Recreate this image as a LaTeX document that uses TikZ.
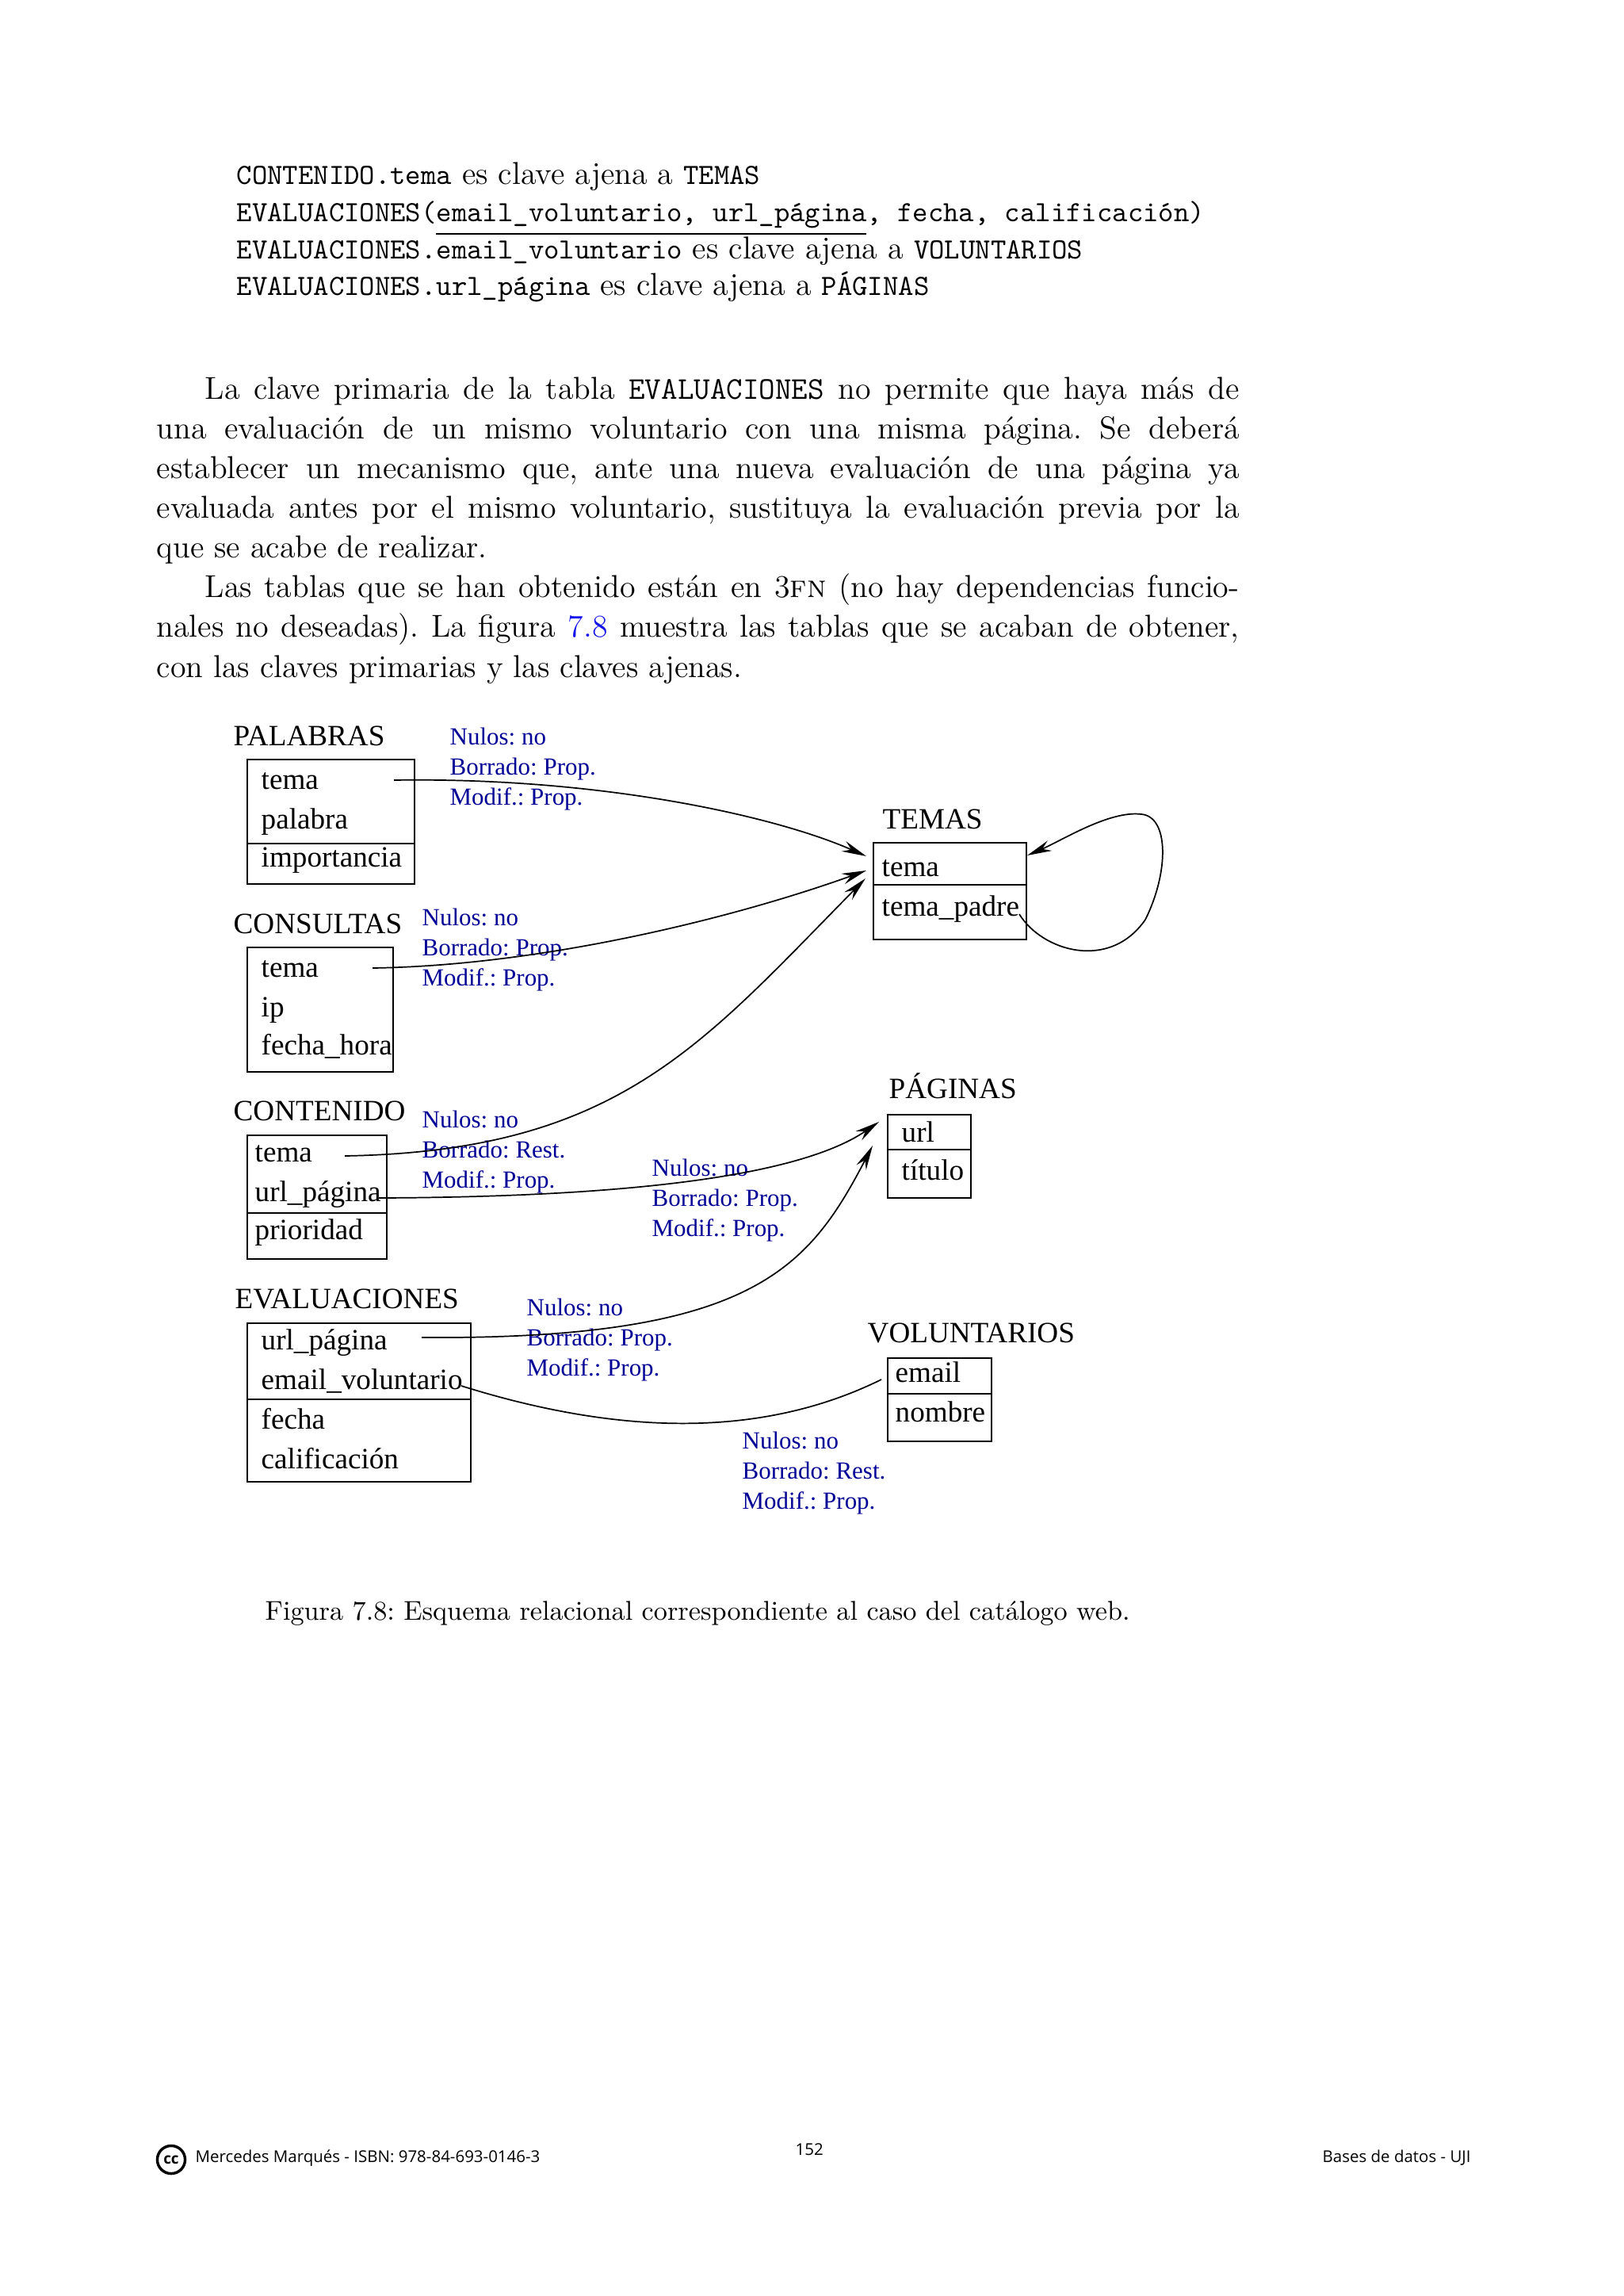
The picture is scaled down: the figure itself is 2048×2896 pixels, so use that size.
\documentclass[tikz,border=0pt]{standalone}
\usepackage{fontspec}
\usepackage{xcolor}
\usetikzlibrary{arrows.meta}
\newfontfamily\timesf{Liberation Serif}
\newfontfamily\footf{Open Sans}
\definecolor{fkblue}{RGB}{0,0,150}
\definecolor{linkblue}{RGB}{20,20,235}
\newcommand\ctt[1]{{\fontsize{10.73}{13}\selectfont\ttfamily #1}}
\newcommand\fkl[4]{%
  \node[fk] (#1a) at (#2,#3) {Nulos: no};
  \node[fk] (#1b) at (#2,{#3+38}) {Borrado: #4};
  \node[fk] (#1c) at (#2,{#3+76}) {Modif.: Prop.};}
\frenchspacing
\begin{document}
\begin{tikzpicture}[x=0.2906pt,y=-0.2906pt,
  body/.style={anchor=base west,inner sep=0pt,font=\fontsize{11.6}{14.5}\selectfont},
  tbox/.style={draw,line width=0.5pt},
  fld/.style={anchor=base west,inner sep=0pt,font=\timesf\fontsize{10.8}{13}\selectfont},
  fk/.style={anchor=base west,inner sep=0pt,text=fkblue,font=\timesf\fontsize{9}{11}\selectfont},
  conn/.style={line width=0.5pt},
  arr/.style={conn,-{Stealth[length=9pt,width=4pt,inset=3pt]}},
  foot/.style={anchor=base west,inner sep=0pt,font=\footf\fontsize{5.95}{7}\selectfont}]
\useasboundingbox (0,0) rectangle (2048,2896);
\fill[white] (0,0) rectangle (2048,2896);

% ---- code lines
\node[body] (l1) at (298,233) {\ctt{CONTENIDO.tema} es clave ajena a \ctt{TEMAS}};
\node[body] (l2) at (298,280) {\ctt{EVALUACIONES(email\_voluntario, url\_página, fecha, calificación)}};
\draw[line width=0.75pt] (550,295) -- (1093,295);
\node[body] (l3) at (298,327) {\ctt{EVALUACIONES.email\_voluntario} es clave ajena a \ctt{VOLUNTARIOS}};
\node[body] (l4) at (298,373) {\ctt{EVALUACIONES.url\_página} es clave ajena a \ctt{PÁGINAS}};

% ---- body text
\node[body] (b1) at (258,504) {\makebox[379.2pt][s]{La clave primaria de la tabla \texttt{EVALUACIONES} no permite que haya más de}};
\node[body] (b2) at (197,554) {\makebox[397pt][s]{una evaluación de un mismo voluntario con una misma página. Se deberá}};
\node[body] (b3) at (197,604) {\makebox[397pt][s]{establecer un mecanismo que, ante una nueva evaluación de una página ya}};
\node[body] (b4) at (197,654) {\makebox[397pt][s]{evaluada antes por el mismo voluntario, sustituya la evaluación previa por la}};
\node[body] (b5) at (197,704) {que se acabe de realizar.};
\node[body] (b6) at (258,754) {\makebox[379.2pt][s]{Las tablas que se han obtenido están en 3\textsc{fn} (no hay dependencias funcio-}};
\node[body] (b7) at (197,804) {\makebox[397pt][s]{nales no deseadas). La figura {\color{linkblue}7.8} muestra las tablas que se acaban de obtener,}};
\node[body] (b8) at (197,854) {con las claves primarias y las claves ajenas.};

% ---- tables
% PALABRAS
\node[fld] (tpal) at (294,940) {PALABRAS};
\draw[tbox] (312,958) rectangle (523,1115);
\draw[tbox] (312,1064) -- (523,1064);
\node[fld] (pal1) at (329,995) {tema};
\node[fld] (pal2) at (329,1045) {palabra};
\node[fld] (pal3) at (329,1093) {importancia};
% CONSULTAS
\node[fld] (tcon) at (294,1177) {CONSULTAS};
\draw[tbox] (312,1195) rectangle (496,1352);
\node[fld] (con1) at (329,1232) {tema};
\node[fld] (con2) at (329,1282) {ip};
\node[fld] (con3) at (329,1330) {fecha\_hora};
% CONTENIDO
\node[fld] (tcnt) at (294,1413) {CONTENIDO};
\draw[tbox] (312,1432) rectangle (488,1588);
\draw[tbox] (312,1530) -- (488,1530);
\node[fld] (cnt1) at (321,1465) {tema};
\node[fld] (cnt2) at (321,1515) {url\_página};
\node[fld] (cnt3) at (321,1563) {prioridad};
% EVALUACIONES
\node[fld] (teva) at (296,1650) {EVALUACIONES};
\draw[tbox] (312,1669) rectangle (594,1869);
\draw[tbox] (312,1765) -- (594,1765);
\node[fld] (eva1) at (329,1702) {url\_página};
\node[fld] (eva2) at (329,1752) {email\_voluntario};
\node[fld] (eva3) at (329,1802) {fecha};
\node[fld] (eva4) at (329,1852) {calificación};
% TEMAS
\node[fld] (ttem) at (1113,1045) {TEMAS};
\draw[tbox] (1102,1063) rectangle (1295,1185);
\draw[tbox] (1102,1116) -- (1295,1116);
\node[fld] (tem1) at (1112,1105) {tema};
\node[fld] (tem2) at (1112,1155) {tema\_padre};
% PAGINAS
\node[fld] (tpag) at (1121,1385) {PÁGINAS};
\draw[tbox] (1120,1406) rectangle (1225,1511);
\draw[tbox] (1120,1450) -- (1225,1450);
\node[fld] (pag1) at (1137,1440) {url};
\node[fld] (pag2) at (1137,1488) {título};
% VOLUNTARIOS
\node[fld] (tvol) at (1094,1693) {VOLUNTARIOS};
\draw[tbox] (1120,1713) rectangle (1251,1818);
\draw[tbox] (1120,1758) -- (1251,1758);
\node[fld] (vol1) at (1129,1743) {email};
\node[fld] (vol2) at (1129,1793) {nombre};

% ---- foreign key labels
\fkl{fa}{567}{939}{Prop.}
\fkl{fb}{532}{1167}{Prop.}
\fkl{fc}{532}{1422}{Rest.}
\fkl{fd}{822}{1483}{Prop.}
\fkl{fe}{664}{1659}{Prop.}
\fkl{ff}{936}{1827}{Rest.}

% ---- connector end points
\coordinate (s1) at (497,984);   \coordinate (e1) at (1093,1080);
\coordinate (s2) at (470,1221);  \coordinate (e2) at (1093,1098);
\coordinate (s3) at (435,1458);  \coordinate (e3) at (1092,1108);
\coordinate (s4) at (478,1511);  \coordinate (e4) at (1109,1415);
\coordinate (s5) at (532,1687);  \coordinate (e5) at (1101,1445);
\coordinate (s6) at (582,1748);  \coordinate (e6) at (1112,1740);
\coordinate (s7) at (1286,1153); \coordinate (e7) at (1296,1079);

\draw[arr] (s1) .. controls (760,980) and (980,1030) .. (e1);
\draw[arr] (s2) .. controls (680,1218) and (920,1160) .. (e2);
\draw[arr] (s3) .. controls (780,1452) and (885,1318) .. (e3);
\draw[arr] (s4) .. controls (750,1510) and (1000,1490) .. (e4);
\draw[arr] (s5) .. controls (950,1690) and (1020,1600) .. (e5);
\draw[conn] (s6) .. controls (780,1810) and (960,1815) .. (e6);
\draw[arr] (s7) .. controls (1315,1200) and (1400,1225) .. (1445,1160)
  .. controls (1475,1100) and (1475,1030) .. (1440,1027)
  .. controls (1400,1022) and (1340,1060) .. (e7);

% ---- caption
\node[anchor=base west,inner sep=0pt,font=\fontsize{9.95}{12.5}\selectfont] (cap) at (334,2043) {Figura 7.8: Esquema relacional correspondiente al caso del catálogo web.};

% ---- footer
\node[draw,circle,line width=1pt,minimum size=10.2pt,inner sep=0pt,font=\footf\bfseries\fontsize{5.5}{6}\selectfont] (cc) at (216,2724) {cc};
\node[foot] (fa) at (246,2727) {Mercedes Marqués - ISBN: 978-84-693-0146-3};
\node[foot] (fp) at (1003,2718) {152};
\node[foot] (fr) at (1668,2727) {Bases de datos - UJI};
\end{tikzpicture}
\end{document}
